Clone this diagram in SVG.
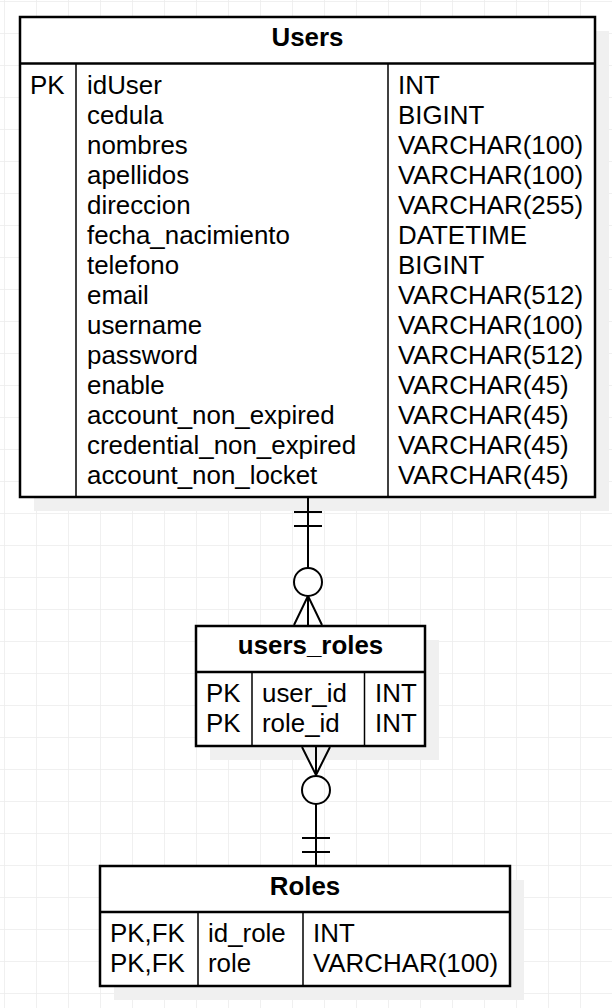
<svg xmlns="http://www.w3.org/2000/svg" width="612" height="1008" viewBox="0 0 612 1008">
<defs>
<pattern id="grid" x="4" y="1" width="32" height="32" patternUnits="userSpaceOnUse">
<path d="M0 0H32M0 0V32" fill="none" stroke="#ececec" stroke-width="1.5"/>
</pattern>
</defs>
<style>
.box{fill:#fff;stroke:#000;stroke-width:2.5}
.shadow{fill:#f0f0f0}
.div{stroke:#000;stroke-width:1.5}
.hl{stroke:#000;stroke-width:2.5}
text{font-family:"Liberation Sans",Arial,sans-serif;font-size:25.9px;fill:#000}
.h{font-weight:bold;text-anchor:middle}
.cn{fill:none;stroke:#000;stroke-width:2}
</style>
<rect width="612" height="1008" fill="#fff"/>
<rect width="612" height="1008" fill="url(#grid)"/>

<g id="users">
<rect class="shadow" x="34" y="31" width="575" height="480"/>
<rect class="box" x="20" y="17" width="575" height="480"/>
<line class="hl" x1="20" y1="63.5" x2="595" y2="63.5"/>
<line class="div" x1="76" y1="63.5" x2="76" y2="497"/>
<line class="div" x1="388" y1="63.5" x2="388" y2="497"/>
<text class="h" x="307.5" y="46">Users</text>
<text x="30" y="94">PK</text>
<text x="87" y="94">idUser</text>
<text x="87" y="124">cedula</text>
<text x="87" y="154">nombres</text>
<text x="87" y="184">apellidos</text>
<text x="87" y="214">direccion</text>
<text x="87" y="244">fecha_nacimiento</text>
<text x="87" y="274">telefono</text>
<text x="87" y="304">email</text>
<text x="87" y="334">username</text>
<text x="87" y="364">password</text>
<text x="87" y="394">enable</text>
<text x="87" y="424">account_non_expired</text>
<text x="87" y="454">credential_non_expired</text>
<text x="87" y="484">account_non_locket</text>
<text x="398" y="94">INT</text>
<text x="398" y="124">BIGINT</text>
<text x="398" y="154">VARCHAR(100)</text>
<text x="398" y="184">VARCHAR(100)</text>
<text x="398" y="214">VARCHAR(255)</text>
<text x="398" y="244">DATETIME</text>
<text x="398" y="274">BIGINT</text>
<text x="398" y="304">VARCHAR(512)</text>
<text x="398" y="334">VARCHAR(100)</text>
<text x="398" y="364">VARCHAR(512)</text>
<text x="398" y="394">VARCHAR(45)</text>
<text x="398" y="424">VARCHAR(45)</text>
<text x="398" y="454">VARCHAR(45)</text>
<text x="398" y="484">VARCHAR(45)</text>
</g>

<g id="users_roles">
<rect class="shadow" x="210" y="640" width="229" height="120"/>
<rect class="box" x="196" y="626" width="229" height="120"/>
<line class="hl" x1="196" y1="672" x2="425" y2="672"/>
<line class="div" x1="252" y1="672" x2="252" y2="746"/>
<line class="div" x1="364.5" y1="672" x2="364.5" y2="746"/>
<text class="h" x="310.5" y="654">users_roles</text>
<text x="206" y="702">PK</text>
<text x="206" y="732">PK</text>
<text x="262" y="702">user_id</text>
<text x="262" y="732">role_id</text>
<text x="375" y="702">INT</text>
<text x="375" y="732">INT</text>
</g>

<g id="roles">
<rect class="shadow" x="114" y="880" width="410" height="120"/>
<rect class="box" x="100" y="866" width="410" height="120"/>
<line class="hl" x1="100" y1="912" x2="510" y2="912"/>
<line class="div" x1="198" y1="912" x2="198" y2="986"/>
<line class="div" x1="303" y1="912" x2="303" y2="986"/>
<text class="h" x="305" y="895">Roles</text>
<text x="110" y="942">PK,FK</text>
<text x="110" y="972">PK,FK</text>
<text x="208" y="942">id_role</text>
<text x="208" y="972">role</text>
<text x="313" y="942">INT</text>
<text x="313" y="972">VARCHAR(100)</text>
</g>

<g id="connectors">
<path class="cn" d="M308 498V568M294 512H322M294 526H322M308 596V625M308 596L294 625M308 596L322 625"/>
<circle class="cn" cx="308" cy="582" r="14" fill="#fff"/>
<path class="cn" d="M316 747V776M316 775L302 747M316 775L330 747M316 804V865M302 838H330M302 852H330"/>
<circle class="cn" cx="316" cy="790" r="14" fill="#fff"/>
</g>
</svg>
